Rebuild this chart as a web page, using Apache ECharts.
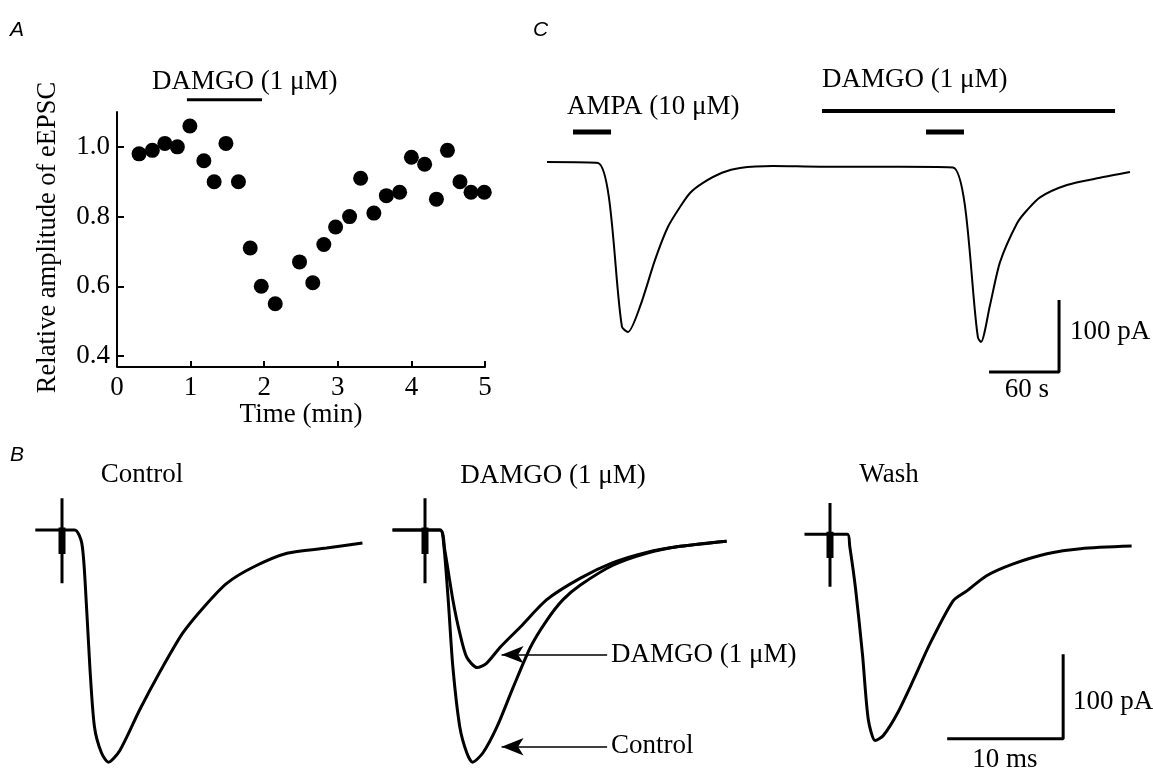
<!DOCTYPE html>
<html>
<head>
<meta charset="utf-8">
<script src="https://cdn.jsdelivr.net/npm/echarts@6/dist/echarts.min.js"></script>
<style>
html,body{margin:0;padding:0;background:#fff}
#chart{width:1153px;height:771px}
</style>
</head>
<body>
<div id="chart"></div>
<script>
// A: relative eEPSC amplitude over time (min)
var timeA = [0.30,0.48,0.65,0.82,0.99,1.18,1.32,1.48,1.65,1.81,1.96,2.15,2.48,2.66,2.81,2.97,3.16,3.31,3.49,3.66,3.84,4.00,4.18,4.34,4.49,4.66,4.81,4.99];
var ampA  = [0.98,0.99,1.01,1.00,1.06,0.96,0.90,1.01,0.90,0.71,0.60,0.55,0.67,0.61,0.72,0.77,0.80,0.91,0.81,0.86,0.87,0.97,0.95,0.85,0.99,0.90,0.87,0.87];
var damgoA = [0.95, 1.97];          // application, min
var ticksAy = [0.4, 0.6, 0.8, 1.0];

// C: AMPA induced current (t in s, I in pA)
var tC = [0,43.7,64.3,69.4,79.7,92.6,103.7,114,122.6,133.7,150,165.4,193.7,234,302.6,348,369.4,372,379.7,388.3,402.9,411.4,422.6,445.7,474,499.7];
var iC = [0,-1.4,-229,-236,-201,-136,-90,-62.5,-43,-29,-15,-8.3,-5.6,-6.5,-6.5,-7.5,-244,-250,-199,-139,-85,-67,-49,-32,-22,-14];
var ampaC = [[22.3,54.9],[324.9,357.4]];
var damgoC = [235.7, 486.9];
var scaleC = [60, 100];   // s, pA

// B: eEPSCs (t in ms from stimulus, I in pA)
var tCtl = [-2.3,1.1,1.7,2.0,2.4,2.8,3.4,4.0,5.0,6.7,8.4,10.4,12.2,14.2,16.5,19.4,22.8,25.9];
var iCtl = [0,0,-15,-62,-159,-229,-259,-270,-256,-209,-166,-120,-90,-62,-43,-27,-21,-15];
var tDamCtl = [-2.8,1.3,1.6,2.0,2.4,3.0,3.6,4.1,5.0,6.2,7.6,9.1,10.5,11.9,13.4,16.2,19.1,22.0,26];
var iDamCtl = [0,0,-15,-81,-159,-229,-259,-270,-259,-229,-183,-136,-105,-81,-64,-41,-27,-19,-13];
var tDam = [-2.8,1.3,1.7,2.4,3.0,3.6,4.5,5.3,6.5,8.2,10.5,13.4,16.2,19.1,22.0,26];
var iDam = [0,0,-23,-81,-120,-148,-160,-155,-136,-113,-81,-56,-38,-26,-19,-13];
var tWash = [-2.2,1.5,1.7,2.2,2.8,3.3,3.9,4.6,5.8,7.2,8.6,10.6,11.8,13.5,15.8,18.7,21.6,26];
var iWash = [0,0,-14,-64,-142,-219,-244,-238,-212,-172,-130,-79,-67,-49,-35,-23,-17,-14];
var scaleB = [10, 100];   // ms, pA

function zip(a, b) {
  var out = [];
  for (var i = 0; i < a.length; i++) out.push([a[i], b[i]]);
  return out;
}

var serif = '"Liberation Serif", "Times New Roman", serif';
var black = '#000';

function hiddenAxes(gi, xmin, xmax, ymin, ymax) {
  return {
    x: {gridIndex: gi, type: 'value', min: xmin, max: xmax, show: false},
    y: {gridIndex: gi, type: 'value', min: ymin, max: ymax, show: false}
  };
}

function trace(ax, data, w) {
  return {
    type: 'line', xAxisIndex: ax, yAxisIndex: ax, data: data,
    showSymbol: false, smooth: 0.25, clip: false,
    lineStyle: {color: black, width: w}, silent: true
  };
}

function seg(ax, data, w) {
  return {
    type: 'line', xAxisIndex: ax, yAxisIndex: ax, data: data,
    showSymbol: false, clip: false,
    lineStyle: {color: black, width: w, cap: 'butt'}, silent: true
  };
}

var grids = [
  {left: 117, top: 112, width: 368, height: 251},       // A
  {left: 547, top: 104.4, width: 595, height: 273.6},   // C
  {left: 27.2, top: 487, width: 348, height: 283.8},    // B control
  {left: 390.2, top: 487, width: 348, height: 283.8},   // B damgo
  {left: 795.2, top: 492, width: 348, height: 283.8}    // B wash
];

var xAxes = [{
  gridIndex: 0, type: 'value', min: 0, max: 5, interval: 1, offset: 4,
  axisLine: {lineStyle: {color: black, width: 2}},
  axisTick: {inside: true, length: 6, lineStyle: {color: black, width: 2}},
  axisLabel: {color: black, fontFamily: serif, fontSize: 27, margin: 7},
  splitLine: {show: false},
  name: 'Time (min)', nameLocation: 'middle', nameGap: 34,
  nameTextStyle: {color: black, fontFamily: serif, fontSize: 27}
}];
var yAxes = [{
  gridIndex: 0, type: 'value', min: 0.38, max: 1.1,
  axisLine: {show: true, lineStyle: {color: black, width: 2}},
  axisTick: {show: true, inside: true, length: 7, customValues: ticksAy, lineStyle: {color: black, width: 2}},
  axisLabel: {color: black, fontFamily: serif, fontSize: 27, margin: 7, customValues: ticksAy,
    formatter: function (v) { return v.toFixed(1); }},
  splitLine: {show: false},
  name: 'Relative amplitude of eEPSC', nameLocation: 'middle', nameGap: 55, nameRotate: 90,
  nameTextStyle: {color: black, fontFamily: serif, fontSize: 26.5}
}];

var ranges = [
  [1, 0, 510, -300, 80],
  [2, -3, 27, -280, 50],
  [3, -3, 27, -280, 50],
  [4, -3, 27, -280, 50]
];
ranges.forEach(function (r) {
  var a = hiddenAxes(r[0], r[1], r[2], r[3], r[4]);
  xAxes.push(a.x); yAxes.push(a.y);
});

var series = [];
// A
series.push({
  type: 'scatter', xAxisIndex: 0, yAxisIndex: 0, data: zip(timeA, ampA),
  symbol: 'circle', symbolSize: 15, itemStyle: {color: black, opacity: 1}, silent: true
});
series.push(seg(0, [[damgoA[0], 1.135], [damgoA[1], 1.135]], 3));

// C
series.push(trace(1, zip(tC, iC), 2));
ampaC.forEach(function (p) { series.push(seg(1, [[p[0], 41.7], [p[1], 41.7]], 5)); });
series.push(seg(1, [[damgoC[0], 70.8], [damgoC[1], 70.8]], 4));
var cx = 438.9, cy = -291.7;
series.push(seg(1, [[cx - scaleC[0], cy], [cx, cy], [cx, cy + scaleC[1]]], 3));

// B stimulus artifacts
[2, 3, 4].forEach(function (ax) {
  series.push(seg(ax, [[0, 37], [0, -62]], 3));
  series.push(seg(ax, [[0, 3], [0, -28]], 7));
});
series.push(trace(2, zip(tCtl, iCtl), 3));
series.push(trace(3, zip(tDamCtl, iDamCtl), 3));
var damTrace = trace(3, zip(tDam, iDam), 3);
damTrace.markLine = {
  silent: true, symbol: ['none', 'arrow'], symbolSize: [13, 22],
  lineStyle: {color: black, width: 1.5, type: 'solid'}, label: {show: false},
  data: [
    [{coord: [15.7, -145]}, {coord: [6.6, -145]}],
    [{coord: [15.7, -252]}, {coord: [6.6, -252]}]
  ]
};
series.push(damTrace);
series.push(trace(4, zip(tWash, iWash), 3));
var bx = 20.1, by = -242;
series.push(seg(4, [[bx - scaleB[0], by], [bx, by], [bx, by + scaleB[1]]], 3));

function txt(s, x, y, align, size, font) {
  var f = (font || (size + 'px ' + serif));
  return {
    type: 'text', x: x, y: y, silent: true,
    style: {text: s, font: f, fill: black, align: align, verticalAlign: 'middle',
      textAlign: align, textVerticalAlign: 'middle'}
  };
}
var letter = 'italic 21px "Liberation Sans", Arial, sans-serif';

var graphics = [
  txt('A', 10, 30, 'left', 21, letter),
  txt('C', 533, 30, 'left', 21, letter),
  txt('B', 10, 455, 'left', 21, letter),
  txt('DAMGO (1 \u03bcM)', 152, 82, 'left', 27),
  txt('AMPA (10 \u03bcM)', 567, 107, 'left', 27),
  txt('DAMGO (1 \u03bcM)', 822, 80, 'left', 27),
  txt('100 pA', 1070, 332, 'left', 27),
  txt('60 s', 1027, 390, 'center', 27),
  txt('Control', 142, 475, 'center', 27),
  txt('DAMGO (1 \u03bcM)', 553, 476, 'center', 27),
  txt('Wash', 889, 475, 'center', 27),
  txt('DAMGO (1 \u03bcM)', 611, 655, 'left', 27),
  txt('Control', 611, 746, 'left', 27),
  txt('100 pA', 1073, 702, 'left', 27),
  txt('10 ms', 1005, 760, 'center', 27)
];

var myChart = echarts.init(document.getElementById('chart'));
myChart.setOption({
  backgroundColor: '#fff',
  animation: false,
  grid: grids,
  xAxis: xAxes,
  yAxis: yAxes,
  series: series,
  graphic: graphics
});
</script>
</body>
</html>
